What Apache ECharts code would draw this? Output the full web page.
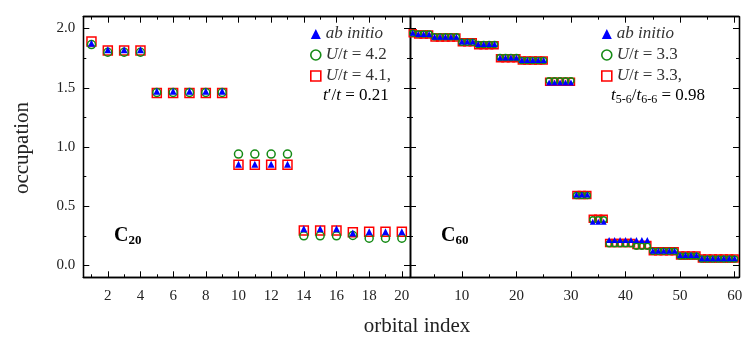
<!DOCTYPE html>
<html><head><meta charset="utf-8">
<script src="https://cdn.jsdelivr.net/npm/echarts@6/dist/echarts.min.js"></script>
<style>html,body{margin:0;padding:0;background:#fff}#c{width:752px;height:345px}</style>
</head><body><div id="c"></div>
<script>
// ---------- data ----------
const c20Orbitals = Array.from({length: 20}, (_, i) => i + 1);
const c20AbInitio = [1.875, 1.82, 1.82, 1.82, 1.47, 1.47, 1.47, 1.47, 1.47, 0.855, 0.855, 0.855, 0.855, 0.31, 0.31, 0.31, 0.275, 0.285, 0.285, 0.285];
const c20U42 = [1.865, 1.80, 1.80, 1.80, 1.46, 1.46, 1.46, 1.46, 1.46, 0.94, 0.94, 0.94, 0.94, 0.25, 0.25, 0.25, 0.253, 0.23, 0.23, 0.23];
const c20U41 = [1.89, 1.815, 1.815, 1.815, 1.455, 1.455, 1.455, 1.455, 1.455, 0.85, 0.85, 0.85, 0.85, 0.295, 0.295, 0.295, 0.28, 0.285, 0.285, 0.285];

const c60Orbitals = Array.from({length: 60}, (_, i) => i + 1);
const c60AbInitio = [1.965, 1.955, 1.955, 1.955, 1.93, 1.93, 1.93, 1.93, 1.93, 1.89, 1.89, 1.89, 1.87, 1.87, 1.87, 1.87,
  1.755, 1.755, 1.755, 1.755, 1.735, 1.735, 1.735, 1.735, 1.735, 1.545, 1.545, 1.545, 1.545, 1.545,
  0.60, 0.60, 0.60, 0.37, 0.37, 0.37, 0.215, 0.215, 0.215, 0.215, 0.215, 0.215, 0.215, 0.215,
  0.125, 0.125, 0.125, 0.125, 0.125, 0.088, 0.088, 0.088, 0.088, 0.06, 0.06, 0.06, 0.06, 0.06, 0.06, 0.06];
const c60U33 = [1.96, 1.955, 1.955, 1.955, 1.93, 1.93, 1.93, 1.93, 1.93, 1.885, 1.885, 1.885, 1.865, 1.865, 1.865, 1.865,
  1.755, 1.755, 1.755, 1.755, 1.73, 1.73, 1.73, 1.73, 1.73, 1.56, 1.56, 1.56, 1.56, 1.56,
  0.59, 0.59, 0.59, 0.385, 0.385, 0.385, 0.183, 0.183, 0.183, 0.183, 0.183, 0.163, 0.163, 0.163,
  0.12, 0.12, 0.12, 0.12, 0.12, 0.08, 0.08, 0.08, 0.08, 0.055, 0.055, 0.055, 0.055, 0.055, 0.055, 0.055];
const c60U33t = [1.96, 1.95, 1.95, 1.95, 1.925, 1.925, 1.925, 1.925, 1.925, 1.885, 1.885, 1.885, 1.86, 1.86, 1.86, 1.86,
  1.75, 1.75, 1.75, 1.75, 1.73, 1.73, 1.73, 1.73, 1.73, 1.55, 1.55, 1.55, 1.55, 1.55,
  0.595, 0.595, 0.595, 0.395, 0.395, 0.395, 0.19, 0.19, 0.19, 0.19, 0.19, 0.172, 0.172, 0.172,
  0.12, 0.12, 0.12, 0.12, 0.12, 0.085, 0.085, 0.085, 0.085, 0.058, 0.058, 0.058, 0.058, 0.058, 0.058, 0.058];

// tick positions / labels
const yMajorTicks = [0, 0.5, 1.0, 1.5, 2.0];
const yMinorTicks = [0.25, 0.75, 1.25, 1.75];
const c20MajorTicks = [2, 4, 6, 8, 10, 12, 14, 16, 18, 20];
const c20MinorTicks = [1, 3, 5, 7, 9, 11, 13, 15, 17, 19];
const c60MajorTicks = [10, 20, 30, 40, 50, 60];
const c60MinorTicks = [5, 15, 25, 35, 45, 55];

// ---------- chart ----------
const FONT = "'Liberation Serif', 'DejaVu Serif', serif";
const BLUE = '#0000ff', GREEN = '#148a14', RED = '#ff0000';
const chart = echarts.init(document.getElementById('c'), null, {renderer: 'canvas'});

const G = [
  {left: 83.3, top: 16.7, width: 326.7, height: 260.6},
  {left: 410, top: 16.7, width: 329, height: 260.6}
];
const XR = [[0.5, 20.5], [0.5, 60.8]];
const YR = [-0.1, 2.1];

function ax(type, gi, pos, range, ticks, len, labels, fmt) {
  const a = {
    type: 'value', gridIndex: gi, position: pos, min: range[0], max: range[1],
    axisLine: {show: true, onZero: false, lineStyle: {color: '#000', width: 1.3}},
    axisTick: {show: true, inside: true, length: len, customValues: ticks, lineStyle: {color: '#000', width: 1}},
    splitLine: {show: false}, minorTick: {show: false}
  };
  if (labels) {
    a.axisLabel = {show: true, customValues: labels, color: '#222', fontFamily: FONT, fontSize: 15,
      margin: type === 'x' ? 11 : 8, formatter: fmt};
  } else {
    a.axisLabel = {show: false};
  }
  return a;
}

const xAxes = [], yAxes = [];
const xMaj = [c20MajorTicks, c60MajorTicks], xMin = [c20MinorTicks, c60MinorTicks];
for (let g = 0; g < 2; g++) {
  xAxes.push(ax('x', g, 'bottom', XR[g], xMaj[g], 6, xMaj[g], v => String(v)));
  xAxes.push(ax('x', g, 'bottom', XR[g], xMin[g], 3, null));
  xAxes.push(ax('x', g, 'top', XR[g], xMaj[g], 6, null));
  xAxes.push(ax('x', g, 'top', XR[g], xMin[g], 3, null));
  yAxes.push(ax('y', g, 'left', YR, yMajorTicks, 6, g === 0 ? yMajorTicks : null, v => v.toFixed(1)));
  yAxes.push(ax('y', g, 'left', YR, yMinorTicks, 3, null));
  yAxes.push(ax('y', g, 'right', YR, yMajorTicks, 6, null));
  yAxes.push(ax('y', g, 'right', YR, yMinorTicks, 3, null));
}

function pts(xs, ys) { return xs.map((x, i) => [x, ys[i]]); }
function sc(name, g, data, kind, big) {
  const s = {type: 'scatter', name, xAxisIndex: g * 4, yAxisIndex: g * 4, data, silent: true, animation: false};
  if (kind === 'tri') {
    s.symbol = 'triangle'; s.symbolSize = big ? 7 : 6; s.z = 4;
    s.itemStyle = {color: BLUE, opacity: 1};
  } else if (kind === 'circ') {
    s.symbol = 'circle'; s.symbolSize = big ? 8 : 6; s.z = 3;
    s.itemStyle = {color: 'rgba(255,255,255,0)', borderColor: GREEN, borderWidth: 1.5, opacity: 1};
  } else {
    s.symbol = 'rect'; s.symbolSize = big ? 9 : 7; s.z = 2;
    s.itemStyle = {color: 'rgba(255,255,255,0)', borderColor: RED, borderWidth: 1.5, opacity: 1};
  }
  return s;
}

const series = [
  sc('U/t = 4.1,', 0, pts(c20Orbitals, c20U41), 'sq', true),
  sc('U/t = 4.2', 0, pts(c20Orbitals, c20U42), 'circ', true),
  sc('ab initio', 0, pts(c20Orbitals, c20AbInitio), 'tri', true),
  sc('U/t = 3.3,', 1, pts(c60Orbitals, c60U33t), 'sq', false),
  sc('U/t = 3.3', 1, pts(c60Orbitals, c60U33), 'circ', false),
  sc('ab initio ', 1, pts(c60Orbitals, c60AbInitio), 'tri', false)
];

const rich = {
  i: {fontStyle: 'italic', fontFamily: FONT, fontSize: 17, color: '#333'},
  n: {fontFamily: FONT, fontSize: 17, color: '#333'}
};
const legendText = {
  'ab initio': '{i|ab initio}', 'ab initio ': '{i|ab initio}',
  'U/t = 4.2': '{i|U}{n|/}{i|t}{n| = 4.2}',
  'U/t = 4.1,': '{i|U}{n|/}{i|t}{n| = 4.1,}',
  'U/t = 3.3': '{i|U}{n|/}{i|t}{n| = 3.3}',
  'U/t = 3.3,': '{i|U}{n|/}{i|t}{n| = 3.3,}'
};
function legend(left, names) {
  return {
    orient: 'vertical', left, top: 20, itemWidth: 10, itemHeight: 10, itemGap: 3,
    selectedMode: false,
    textStyle: {fontFamily: FONT, fontSize: 17, lineHeight: 18, rich},
    formatter: n => legendText[n],
    data: [
      {name: names[0], icon: 'triangle', itemStyle: {color: BLUE, borderWidth: 0}},
      {name: names[1], icon: 'circle', itemStyle: {color: 'rgba(255,255,255,0)', borderColor: GREEN, borderWidth: 1.6}},
      {name: names[2], icon: 'rect', itemStyle: {color: 'rgba(255,255,255,0)', borderColor: RED, borderWidth: 1.6}}
    ]
  };
}

chart.setOption({
  animation: false,
  grid: G.map(g => Object.assign({containLabel: false}, g)),
  xAxis: xAxes,
  yAxis: yAxes,
  legend: [legend(305, ['ab initio', 'U/t = 4.2', 'U/t = 4.1,']),
           legend(596, ['ab initio ', 'U/t = 3.3', 'U/t = 3.3,'])],
  series,
  graphic: [
    {type: 'text', left: 323, top: 87, style: {
      text: '{i|t}{n|′/}{i|t}{n| = 0.21}', rich}},
    {type: 'text', left: 611, top: 87, style: {
      text: '{i|t}{s|5-6}{n|/}{i|t}{s|6-6}{n| = 0.98}',
      rich: Object.assign({s: {fontFamily: FONT, fontSize: 12, color: '#333', padding: [8, 0, 0, 0]}}, rich)}},
    {type: 'text', left: 114, top: 226, style: {
      text: '{c|C}{s|20}',
      rich: {c: {fontFamily: FONT, fontSize: 20, fontWeight: 'bold', color: '#222'},
             s: {fontFamily: FONT, fontSize: 13, fontWeight: 'bold', color: '#222', padding: [9, 0, 0, 0]}}}},
    {type: 'text', left: 441, top: 226, style: {
      text: '{c|C}{s|60}',
      rich: {c: {fontFamily: FONT, fontSize: 20, fontWeight: 'bold', color: '#222'},
             s: {fontFamily: FONT, fontSize: 13, fontWeight: 'bold', color: '#222', padding: [9, 0, 0, 0]}}}},
    {type: 'text', x: 22, y: 148, rotation: Math.PI / 2, style: {
      text: 'occupation', fontFamily: FONT, fontSize: 21, fill: '#222', align: 'center', verticalAlign: 'middle'}},
    {type: 'text', x: 417, y: 326, style: {
      text: 'orbital index', fontFamily: FONT, fontSize: 21, fill: '#222', align: 'center', verticalAlign: 'middle'}}
  ]
});
</script></body></html>
